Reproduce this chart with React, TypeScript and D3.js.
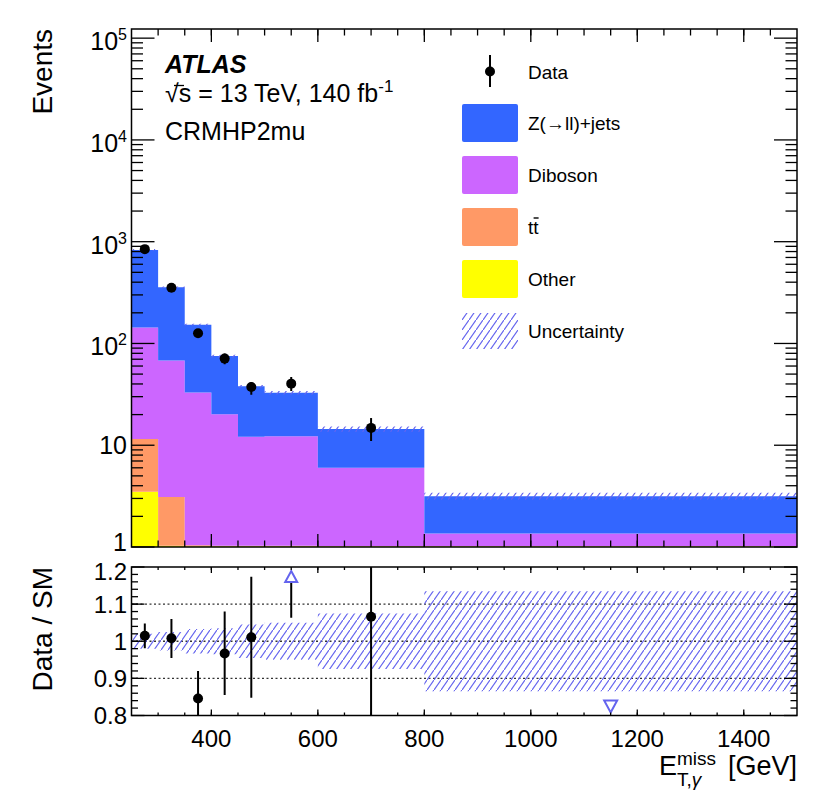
import React from 'react';
import * as d3 from 'd3';

// bin edges in GeV
const binEdges = [250, 300, 350, 400, 450, 500, 600, 800, 1500];

// stacked backgrounds (per-bin yields)
const other = [3.5, 1.03, 1.02, 1.02, 1.02, 1.02, 1.02, 1.02];
const ttbar = [8.0, 2.07, 0.02, 0.01, 0.01, 0.01, 0, 0];
const diboson = [132, 65, 32, 19.1, 11.1, 11.2, 5.0, 0.34];
const zjets = [686, 288, 120, 55, 25.8, 20.6, 8.4, 1.8];
const mainUnc = [0.02, 0.02, 0.02, 0.03, 0.03, 0.04, 0.06, 0.08];

// data
const dataVals = [845, 352, 126, 71, 37.3, 40.3, 14.8, 0];
const dataErrUp = [29, 19, 11, 8.5, 4.5, 6.5, 3.7, 0];
const dataErrDown = [29, 19, 11, 8.5, 6, 6.2, 3.8, 0];

// ratio panel
const ratio = [1.015, 1.008, 0.846, 0.967, 1.011, 1.23, 1.066, 0];
const ratioUp = [1.048, 1.06, 0.92, 1.08, 1.174, 1.35, 1.5, 0];
const ratioDown = [0.981, 0.955, 0.77, 0.855, 0.848, 1.063, 0.6, 0];
const ratioUnc = [0.02, 0.025, 0.033, 0.035, 0.045, 0.05, 0.075, 0.135];

const xTickLabels = [400, 600, 800, 1000, 1200, 1400];
const yTickExp = [0, 1, 2, 3, 4, 5];
const ratioTickLabels = ['0.8', '0.9', '1', '1.1', '1.2'];

const legendItems = [
  { label: 'Z(→ll)+jets', color: '#3366ff' },
  { label: 'Diboson', color: '#cc66ff' },
  { label: 'tt', color: '#ff9966' },
  { label: 'Other', color: '#ffff00' },
];

const FONT = "'Liberation Sans', Arial, Helvetica, sans-serif";
const HATCH = '#6464ee';

export default function App() {
  const W = 822, H = 798;
  const L = 131.5, R = 797;
  const mainTop = 29, mainBot = 547;
  const ratTop = 567, ratBot = 715.5;

  const x = d3.scaleLinear().domain([250, 1500]).range([L, R]);
  const y = d3.scaleLog().domain([1, 1.23e5]).range([mainBot, mainTop]);
  const yr = d3.scaleLinear().domain([0.8, 1.2]).range([ratBot, ratTop]);

  const nb = zjets.length;
  const rows = d3.range(nb).map(i => ({
    other: other[i], ttbar: ttbar[i], diboson: diboson[i], zjets: zjets[i],
  }));
  const keys = ['other', 'ttbar', 'diboson', 'zjets'];
  const colors: Record<string, string> = {
    other: '#ffff00', ttbar: '#ff9966', diboson: '#cc66ff', zjets: '#3366ff',
  };
  const layers = d3.stack<any>().keys(keys)(rows);
  const totals = rows.map(r => r.other + r.ttbar + r.diboson + r.zjets);

  // step area through bin edges
  const stepIdx = d3.range(nb + 1);
  const clampY = (v: number) => y(Math.max(v, 1));
  const stepArea = (lo: (i: number) => number, hi: (i: number) => number) =>
    d3.area<number>()
      .x(i => x(binEdges[i]))
      .y0(i => lo(Math.min(i, nb - 1)))
      .y1(i => hi(Math.min(i, nb - 1)))
      .curve(d3.curveStepAfter)(stepIdx) || '';

  const xMinor = d3.range(300, 1500, 50);
  const xMajor = d3.range(400, 1500, 200);
  const yMinor: number[] = [];
  yTickExp.forEach(e => {
    for (let m = 2; m <= 9; m++) {
      const v = m * Math.pow(10, e);
      if (v < 1.23e5) yMinor.push(v);
    }
  });
  const rMinor = d3.range(0.82, 1.2, 0.02);
  const rMajor = [0.8, 0.9, 1.0, 1.1, 1.2];

  const centers = d3.range(nb).map(i => (binEdges[i] + binEdges[i + 1]) / 2);

  const tick = (x1: number, y1: number, x2: number, y2: number, k: string) => (
    <line key={k} x1={x1} y1={y1} x2={x2} y2={y2} stroke="#000" strokeWidth={1.3} />
  );

  return (
    <div style={{ position: 'absolute', left: 0, top: 0 }}>
      <svg width={W} height={H} style={{ display: 'block', background: '#fff' }} fontFamily={FONT}>
        <defs>
          <pattern id="hatch" patternUnits="userSpaceOnUse" width={7} height={10}>
            <path d="M-1,11.43 L8,-1.43" stroke={HATCH} strokeWidth={1.2} />
          </pattern>
          <clipPath id="clipMain">
            <rect x={L} y={mainTop} width={R - L} height={mainBot - mainTop} />
          </clipPath>
          <clipPath id="clipRatio">
            <rect x={L} y={ratTop} width={R - L} height={ratBot - ratTop} />
          </clipPath>
        </defs>

        {/* ---------- main panel ---------- */}
        <g clipPath="url(#clipMain)">
          {layers.map(layer => (
            <path key={layer.key}
              d={stepArea(i => clampY(layer[i][0]), i => clampY(layer[i][1]))}
              fill={colors[layer.key]} />
          ))}
          <path d={stepArea(i => y(totals[i] * (1 - mainUnc[i])), i => y(totals[i] * (1 + mainUnc[i])))}
            fill="url(#hatch)" />
          {centers.map((c, i) => dataVals[i] > 0 && (
            <g key={'d' + i}>
              <line x1={x(c)} x2={x(c)} y1={y(dataVals[i] + dataErrUp[i])} y2={y(dataVals[i] - dataErrDown[i])}
                stroke="#000" strokeWidth={2} />
              <circle cx={x(c)} cy={y(dataVals[i])} r={5} fill="#000" />
            </g>
          ))}
        </g>

        {/* main ticks */}
        {xMinor.map(v => tick(x(v), mainBot, x(v), mainBot - 6.5, 'mxb' + v))}
        {xMinor.map(v => tick(x(v), mainTop, x(v), mainTop + 6.5, 'mxt' + v))}
        {xMajor.map(v => tick(x(v), mainBot, x(v), mainBot - 13, 'Mxb' + v))}
        {xMajor.map(v => tick(x(v), mainTop, x(v), mainTop + 13, 'Mxt' + v))}
        {yMinor.map(v => tick(L, y(v), L + 11.5, y(v), 'myl' + v))}
        {yMinor.map(v => tick(R, y(v), R - 11.5, y(v), 'myr' + v))}
        {yTickExp.map(e => tick(L, y(Math.pow(10, e)), L + 23, y(Math.pow(10, e)), 'Myl' + e))}
        {yTickExp.map(e => tick(R, y(Math.pow(10, e)), R - 23, y(Math.pow(10, e)), 'Myr' + e))}
        <rect x={L} y={mainTop} width={R - L} height={mainBot - mainTop} fill="none" stroke="#000" strokeWidth={1.5} />

        {/* main y labels */}
        {yTickExp.map(e => (
          <text key={'yl' + e} x={127} y={y(Math.pow(10, e)) + (e >= 2 ? 12 : e === 0 ? 4 : 9)} fontSize={25} textAnchor="end">
            {e === 0 ? '1' : '10'}
            {e >= 2 && <tspan dy={-10} fontSize={16}>{e}</tspan>}
          </text>
        ))}
        <text transform={`translate(52,${mainTop}) rotate(-90)`} textAnchor="end" fontSize={28}>Events</text>

        {/* ATLAS labels */}
        <text x={165} y={72.7} fontSize={25} fontWeight="bold" fontStyle="italic">ATLAS</text>
        <text x={165} y={101.7} fontSize={25}>
          √<tspan>s</tspan> = 13 TeV, 140 fb<tspan dy={-10} fontSize={17}>-1</tspan>
        </text>
        <line x1={174} x2={184} y1={85.5} y2={85.5} stroke="#000" strokeWidth={1.3} />
        <text x={165} y={140} fontSize={25}>CRMHP2mu</text>

        {/* legend */}
        <line x1={490} x2={490} y1={55} y2={87} stroke="#000" strokeWidth={2} />
        <circle cx={490} cy={71.5} r={5} fill="#000" />
        <text x={528} y={78.5} fontSize={19}>Data</text>
        {legendItems.map((it, i) => {
          const cy = 123 + i * 52;
          return (
            <g key={it.label}>
              <rect x={462} y={cy - 19} width={56} height={38} rx={2} fill={it.color} />
              <text x={528} y={cy + 7} fontSize={19}>{it.label}</text>
            </g>
          );
        })}
        <line x1={533.6} x2={538.6} y1={218} y2={218} stroke="#000" strokeWidth={1.4} />
        <rect x={462} y={313} width={56} height={36} fill="url(#hatch)" />
        <text x={528} y={337.5} fontSize={19}>Uncertainty</text>

        {/* ---------- ratio panel ---------- */}
        {[0.9, 1.0, 1.1].map(v => (
          <line key={'g' + v} x1={L} x2={R} y1={yr(v)} y2={yr(v)} stroke="#333" strokeWidth={1.3} strokeDasharray="2,2.5" />
        ))}
        <g clipPath="url(#clipRatio)">
          <path d={stepArea(i => yr(1 - ratioUnc[i]), i => yr(1 + ratioUnc[i]))} fill="url(#hatch)" />
          {centers.map((c, i) => {
            const cx = x(c);
            if (ratio[i] > 1.2) {
              return (
                <g key={'r' + i}>
                  <line x1={cx} x2={cx} y1={ratTop + 15} y2={yr(ratioDown[i])} stroke="#000" strokeWidth={2} />
                  <path d={`M${cx},${ratTop + 4} L${cx + 6},${ratTop + 15} L${cx - 6},${ratTop + 15} Z`}
                    fill="none" stroke={HATCH} strokeWidth={2} />
                </g>
              );
            }
            if (ratio[i] < 0.8) {
              return (
                <path key={'r' + i} d={`M${cx},${ratBot - 3} L${cx + 6.5},${ratBot - 15} L${cx - 6.5},${ratBot - 15} Z`}
                  fill="none" stroke={HATCH} strokeWidth={2} />
              );
            }
            return (
              <g key={'r' + i}>
                <line x1={cx} x2={cx} y1={yr(ratioUp[i])} y2={yr(ratioDown[i])} stroke="#000" strokeWidth={2} />
                <circle cx={cx} cy={yr(ratio[i])} r={5} fill="#000" />
              </g>
            );
          })}
        </g>

        {/* ratio ticks */}
        {xMinor.map(v => tick(x(v), ratBot, x(v), ratBot - 3, 'rxb' + v))}
        {xMinor.map(v => tick(x(v), ratTop, x(v), ratTop + 3, 'rxt' + v))}
        {xMajor.map(v => tick(x(v), ratBot, x(v), ratBot - 6, 'Rxb' + v))}
        {xMajor.map(v => tick(x(v), ratTop, x(v), ratTop + 6, 'Rxt' + v))}
        {rMinor.map(v => tick(L, yr(v), L + 6.5, yr(v), 'ryl' + v))}
        {rMinor.map(v => tick(R, yr(v), R - 6.5, yr(v), 'ryr' + v))}
        {rMajor.map(v => tick(L, yr(v), L + 13, yr(v), 'Ryl' + v))}
        {rMajor.map(v => tick(R, yr(v), R - 13, yr(v), 'Ryr' + v))}
        <rect x={L} y={ratTop} width={R - L} height={ratBot - ratTop} fill="none" stroke="#000" strokeWidth={1.5} />

        {ratioTickLabels.map(t => (
          <text key={'rl' + t} x={127} y={yr(+t) + (t === '1.2' ? 12.5 : 8.5)} fontSize={24} textAnchor="end">{t}</text>
        ))}
        <text transform={`translate(52,${ratTop}) rotate(-90)`} textAnchor="end" fontSize={28}>Data / SM</text>

        {xTickLabels.map(v => (
          <text key={'xl' + v} x={x(v)} y={747} fontSize={24} textAnchor="middle">{v}</text>
        ))}

        {/* x title */}
        <text x={659} y={775} fontSize={27}>E</text>
        <text x={677} y={765} fontSize={19}>miss</text>
        <text x={677} y={786} fontSize={19}>T,<tspan fontStyle="italic">γ</tspan></text>
        <text x={797} y={775} fontSize={27} textAnchor="end">[GeV]</text>
      </svg>
    </div>
  );
}
